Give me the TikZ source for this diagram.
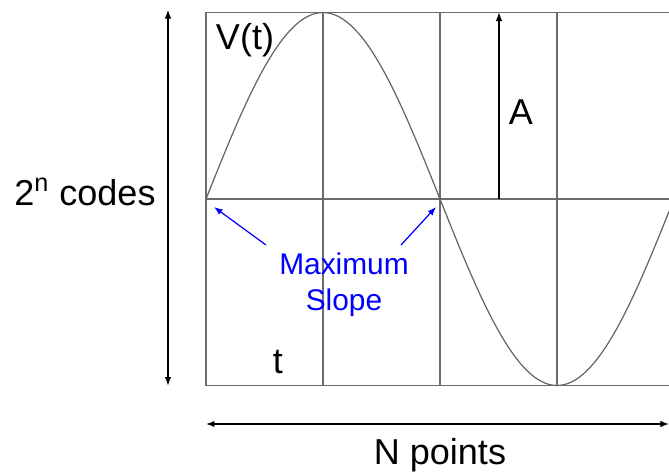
\documentclass[tikz,border=0pt]{standalone}
\usepackage{fontspec}
\setmainfont{Liberation Sans}
\usetikzlibrary{arrows.meta,calc,positioning}

\begin{document}
\begin{tikzpicture}[>={Latex[length=1.7mm,width=1.3mm]},scale=1,
    grid/.style={gray!85!black,line width=0.8pt},
    big/.style={font=\fontsize{20.5}{24}\selectfont},
    note/.style={blue,font=\fontsize{17}{19.5}\selectfont,align=center}]
  \useasboundingbox (-4.12,-5.48) rectangle (9.26,3.98);
  % frame and grid
  \draw[grid] (9.26,3.73) -- (0,3.73) -- (0,-3.73) -- (9.26,-3.73);
  \draw[grid] (0,0) -- (9.26,0);
  \foreach \xx in {2.34,4.68,7.02}
    \draw[grid] (\xx,3.73) -- (\xx,-3.73);
  % signal
  \draw[domain=0:9.26,samples=120,smooth,variable=\x,gray!80!black,line width=0.7pt]
    plot ({\x},{3.73*sin(\x/9.36*360)});
  \coordinate (Z1) at (0,0);
  \coordinate (Z2) at (4.68,0);
  % ranges
  \draw[<->,line width=0.6pt] (-0.76,3.78) -- (-0.76,-3.73);
  \draw[->,line width=0.6pt] (5.86,0) -- (5.86,3.73);
  \draw[<->,line width=0.8pt] (0,-4.5) -- (9.26,-4.5);
  \node[big] (codes) at (-2.42,0.14) {2\textsuperscript{n} codes};
  \node[big] (volt) at (0.78,3.18) {V(t)};
  \node[big] (time) at (1.44,-3.26) {t};
  \node[big] (amp) at (6.3,1.74) {A};
  \node[big] (npts) at (4.68,-5.12) {N points};
  % slope note
  \node[note] (slope) at (2.76,-1.71) {Maximum\\[1pt]Slope};
  \coordinate (s1) at (1.2,-0.92);
  \coordinate (s2) at (3.9,-0.92);
  \draw[->,blue,line width=0.7pt] (s1) -- ($(Z1)+(0.16,-0.16)$);
  \draw[->,blue,line width=0.7pt] (s2) -- ($(Z2)+(-0.08,-0.16)$);
\end{tikzpicture}
\end{document}
